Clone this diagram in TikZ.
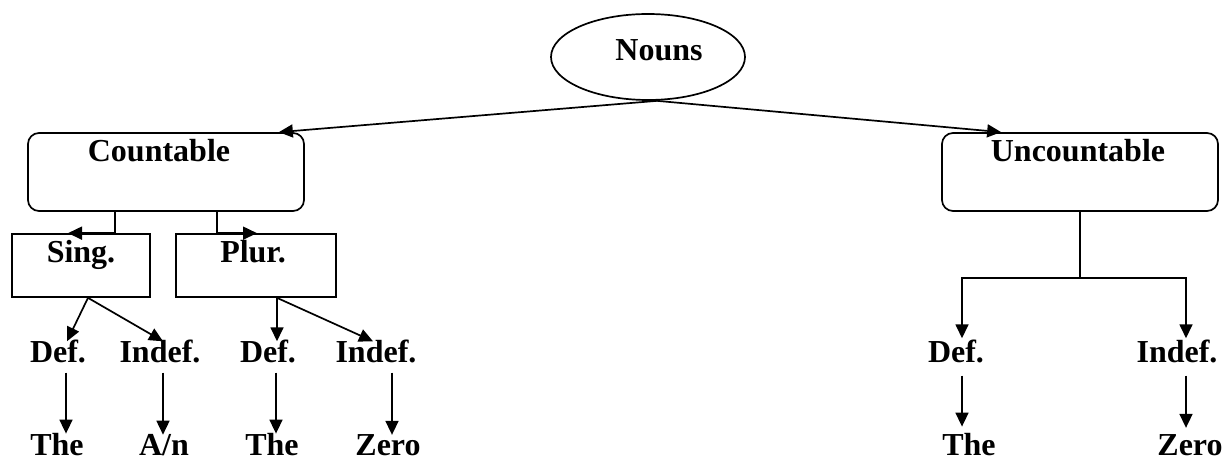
\documentclass[tikz,border=0pt]{standalone}
\usepackage{fontspec}
\setmainfont{Liberation Serif}
\usetikzlibrary{arrows.meta,shapes.geometric}

\tikzset{
  lbl/.style={anchor=base,inner sep=0pt,font=\fontsize{32}{38}\selectfont\bfseries},
  rbox/.style={draw,line width=1.7pt,rounded corners=11pt,minimum width=276pt,minimum height=78pt,inner sep=0pt},
  sbox/.style={draw,line width=1.7pt,minimum height=63pt,inner sep=0pt},
  oval/.style={draw,ellipse,line width=1.7pt,minimum width=194pt,minimum height=86pt,inner sep=0pt},
  link/.style={line width=1.7pt},
  arr/.style={line width=1.7pt,-{Triangle[length=14pt,width=13pt]}}
}

\begin{document}
\begin{tikzpicture}[x=1pt,y=-1pt]
\useasboundingbox (0,0) rectangle (1223,462);

% top node
\node[oval] (nouns) at (648,57) {};
\node[lbl] (nounsT) at (659,61) {Nouns};

% second level
\node[rbox] (cnt) at (166,172) {};
\node[lbl] (cntT) at (159,162) {Countable};
\node[rbox] (unc) at (1080,172) {};
\node[lbl] (uncT) at (1078,162) {Uncountable};

% singular / plural
\node[sbox,minimum width=138pt] (sing) at (81,265.5) {};
\node[lbl] (singT) at (81,262) {Sing.};
\node[sbox,minimum width=160pt] (plur) at (256,265.5) {};
\node[lbl] (plurT) at (253,262) {Plur.};

% definiteness row
\node[lbl] (d1) at (58,362) {Def.};
\node[lbl] (i1) at (160,362) {Indef.};
\node[lbl] (d2) at (268,362) {Def.};
\node[lbl] (i2) at (376,362) {Indef.};
\node[lbl] (d3) at (956,362) {Def.};
\node[lbl] (i3) at (1177,362) {Indef.};

% article row
\node[lbl] (t1) at (57,455) {The};
\node[lbl] (a1) at (164,455) {A/n};
\node[lbl] (t2) at (272,455) {The};
\node[lbl] (z1) at (388,455) {Zero};
\node[lbl] (t3) at (969,455) {The};
\node[lbl] (z2) at (1190,455) {Zero};

% nouns -> countable / uncountable
\draw[arr] ([xshift=9pt]nouns.south) -- ([xshift=-26pt]cnt.north east);
\draw[arr] ([xshift=9pt]nouns.south) -- ([xshift=60pt]unc.north west);

% countable -> sing / plur
\draw[arr] ([xshift=-51pt]cnt.south) |- ([xshift=-13pt]sing.north);
\draw[arr] ([xshift=51pt]cnt.south) |- ([xshift=1pt]plur.north);

% sing / plur -> def / indef
\draw[arr] ([xshift=7pt]sing.south) -- ([xshift=9pt,yshift=-2pt]d1.north);
\draw[arr] ([xshift=7pt]sing.south) -- ([xshift=3pt,yshift=-2pt]i1.north);
\draw[arr] ([xshift=21pt]plur.south) -- ([xshift=9pt,yshift=-2pt]d2.north);
\draw[arr] ([xshift=21pt]plur.south) -- ([xshift=-3pt,yshift=-2pt]i2.north);

% uncountable -> def / indef
\coordinate (usplit) at (1080,278);
\draw[link] (unc.south) -- (usplit);
\draw[arr] (usplit) -| ([xshift=6pt,yshift=1pt]d3.north);
\draw[arr] (usplit) -| ([xshift=9pt,yshift=1pt]i3.north);

% def / indef -> articles
\draw[arr] ([xshift=8pt,yshift=-10pt]d1.south) -- ([xshift=9pt,yshift=-1pt]t1.north);
\draw[arr] ([xshift=3pt,yshift=-10pt]i1.south) -- ([xshift=-1pt,yshift=-1pt]a1.north);
\draw[arr] ([xshift=8pt,yshift=-10pt]d2.south) -- ([xshift=4pt,yshift=-1pt]t2.north);
\draw[arr] ([xshift=16pt,yshift=-10pt]i2.south) -- ([xshift=4pt,yshift=-1pt]z1.north);
\draw[arr] ([xshift=6pt,yshift=-13pt]d3.south) -- ([xshift=-7pt,yshift=6pt]t3.north);
\draw[arr] ([xshift=9pt,yshift=-13pt]i3.south) -- ([xshift=-4pt,yshift=6pt]z2.north);
\end{tikzpicture}
\end{document}
